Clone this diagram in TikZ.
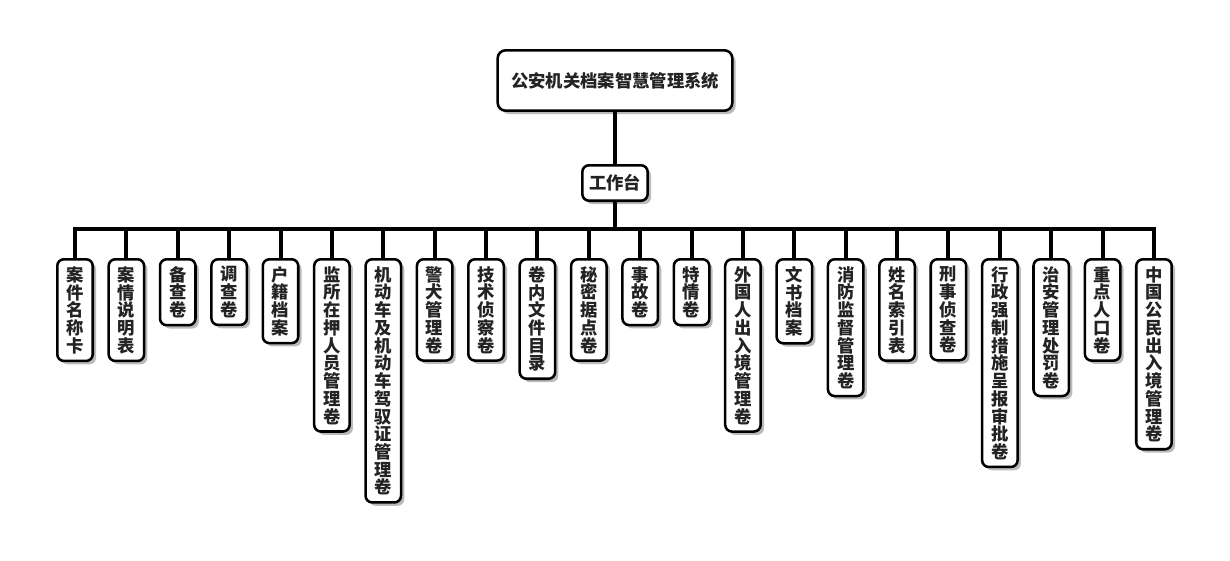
\documentclass[tikz,border=0pt]{standalone}
\usepackage{fontspec}
\usepackage{tikz}
\usetikzlibrary{shadows}
\newfontfamily\cjk{Noto Sans CJK SC}
\XeTeXlinebreaklocale "zh"
\definecolor{ink}{RGB}{35,35,35}

\begin{document}
\begin{tikzpicture}[x=0.75pt,y=-0.75pt,
  box/.style={rectangle, rounded corners=5pt, draw=black, line width=1.9pt, fill=white, text=ink,
    font=\cjk\bfseries\fontsize{13}{13.3}\selectfont,
    drop shadow={shadow xshift=2.5pt, shadow yshift=-2.5pt, fill=black!45, opacity=0.6}},
  leaf/.style={box, anchor=north, text width=13pt, align=center, inner xsep=6.8pt, inner ysep=5.3pt},
  link/.style={line width=3pt}]
\useasboundingbox (0,0) rectangle (1230,560);

% 系统与工作台
\node[box, rounded corners=6pt, minimum width=176pt, minimum height=45.3pt] (root) at (615,80.5) {公安机关档案智慧管理系统};
\node[box, minimum width=49pt, minimum height=26.6pt] (desk) at (615,183) {工作台};

\coordinate (busL) at (75,229);
\coordinate (busR) at (1154,229);
\draw[link] (root) -- (desk);
\draw[link] (desk) -- (desk |- busL);
\draw[link, line cap=rect] (busL) -- (busR);

% 各类档案
\foreach \name [count=\i from 0] in {案件名称卡, 案情说明表, 备查卷, 调查卷, 户籍档案, 监所在押人员管理卷,
    机动车及机动车驾驭证管理卷, 警犬管理卷, 技术侦察卷, 卷内文件目录, 秘密据点卷, 事故卷, 特情卷,
    外国人出入境管理卷, 文书档案, 消防监督管理卷, 姓名索引表, 刑事侦查卷, 行政强制措施呈报审批卷,
    治安管理处罚卷, 重点人口卷, 中国公民出入境管理卷}{
  \node[leaf] (c\i) at (75+\i*51.38,258) {\name};
  \draw[link] (c\i.north) -- (c\i.north |- busL);
}
\end{tikzpicture}
\end{document}
